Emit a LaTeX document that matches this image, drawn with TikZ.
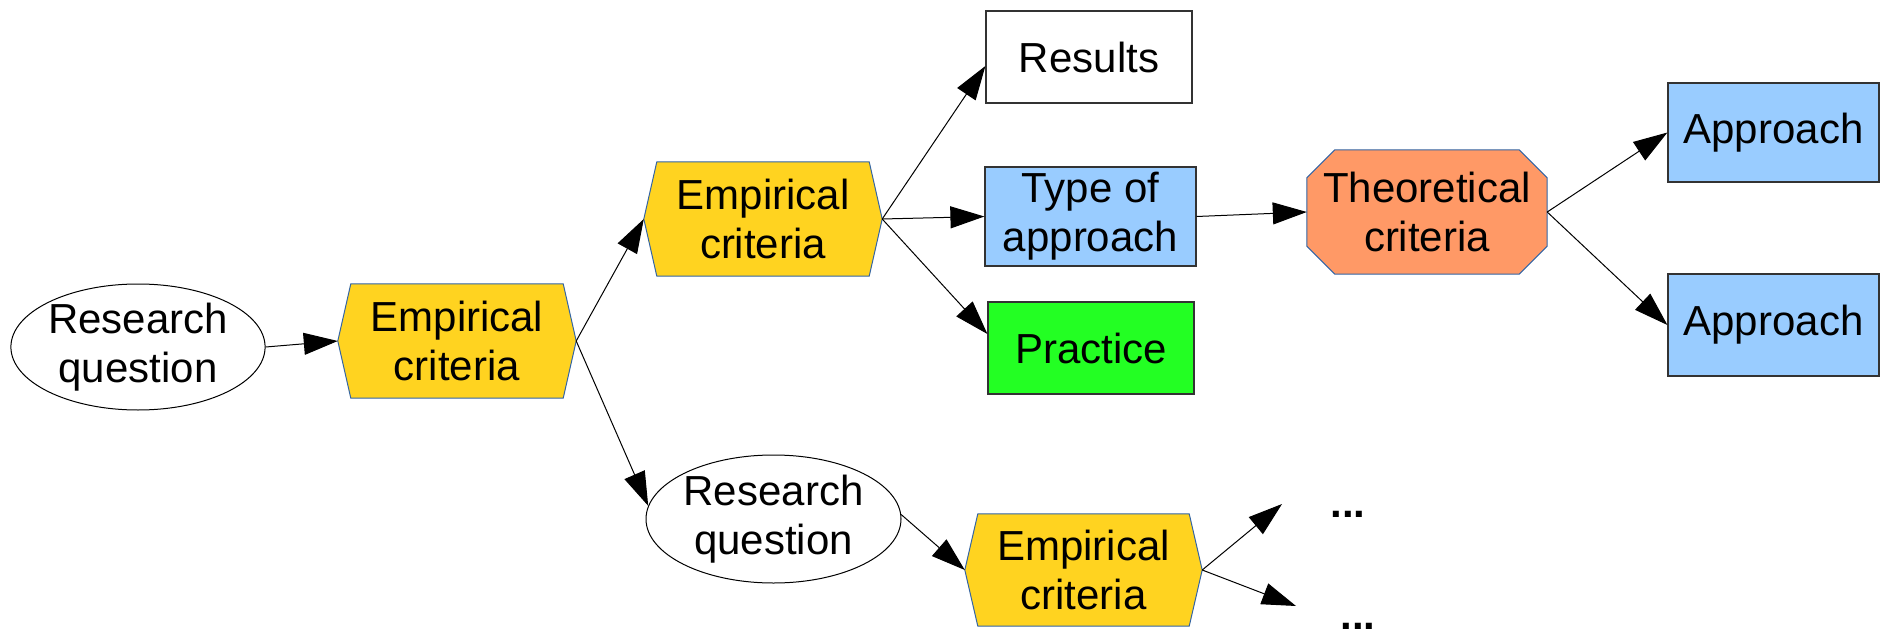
\documentclass[tikz,border=0pt]{standalone}
\usepackage{fontspec}
\setmainfont{Liberation Sans}
\usetikzlibrary{arrows.meta,backgrounds,shapes.geometric}
\definecolor{critfill}{HTML}{FFD320}
\definecolor{critline}{HTML}{3465A4}
\definecolor{apprfill}{HTML}{99CCFF}
\definecolor{pracfill}{HTML}{23FF23}
\definecolor{theofill}{HTML}{FF9966}
\definecolor{boxline}{HTML}{333333}
\begin{document}
\begin{tikzpicture}[x=1pt,y=-1pt,
  lbl/.style={font=\fontsize{42}{49}\selectfont, align=center, inner sep=0pt},
  rbox/.style={lbl, draw=boxline, line width=1.2pt},
  oval/.style={lbl, ellipse, draw=black, line width=1pt},
  critbox/.style={lbl, draw=none, minimum width=238pt, minimum height=114pt},
  conn/.style={-{Triangle[length=34pt,width=22pt]}, line width=1pt, black},
  dots/.style={lbl, font=\fontsize{42}{49}\selectfont\bfseries, anchor=base}]
\useasboundingbox (0,0) rectangle (1881,631);

% questions
\node[oval, minimum width=252pt, minimum height=126pt] (rq1) at (138,347) {Research\\question};
\node[oval, minimum width=255pt, minimum height=128pt] (rq2) at (773.5,519) {Research\\question};

% empirical criteria (hexagons drawn on the background layer)
\node[critbox] (h1) at (457,341) {Empirical\\criteria};
\node[critbox] (h2) at (763,219) {Empirical\\criteria};
\node[critbox, minimum width=237pt, minimum height=112pt] (h3) at (1083.5,570) {Empirical\\criteria};

% theoretical criteria (octagon)
\node[lbl, minimum width=240pt, minimum height=124pt] (theo) at (1427,212) {Theoretical\\criteria};

% rectangles
\node[rbox, minimum width=206pt, minimum height=92pt] (res) at (1089,57) {Results};
\node[rbox, fill=apprfill, minimum width=211pt, minimum height=99pt] (type) at (1090.5,216.5) {Type of\\approach};
\node[rbox, fill=pracfill, minimum width=206pt, minimum height=92pt] (prac) at (1091,348) {Practice};
\node[rbox, fill=apprfill, minimum width=211pt, minimum height=99pt] (app1) at (1773.5,132.5) {Approach};
\node[rbox, fill=apprfill, minimum width=211pt, minimum height=102pt] (app2) at (1773.5,325) {Approach};

% continuation marks
\node[dots] (d1) at (1348,517) {...};
\node[dots] (d2) at (1358,629) {...};
\coordinate (e1) at (1282,504);
\coordinate (e2) at (1296,606);

\begin{scope}[on background layer]
  \foreach \n in {h1,h2,h3}
    \filldraw[fill=critfill, draw=critline, line width=1pt]
      (\n.west) -- ([xshift=13pt]\n.north west) -- ([xshift=-13pt]\n.north east)
      -- (\n.east) -- ([xshift=-13pt]\n.south east) -- ([xshift=13pt]\n.south west) -- cycle;
  \filldraw[fill=theofill, draw=critline, line width=1pt]
    ([yshift=-28pt]theo.north west) -- ([xshift=28pt]theo.north west)
    -- ([xshift=-28pt]theo.north east) -- ([yshift=-28pt]theo.north east)
    -- ([yshift=28pt]theo.south east) -- ([xshift=-28pt]theo.south east)
    -- ([xshift=28pt]theo.south west) -- ([yshift=28pt]theo.south west) -- cycle;
\end{scope}

% connectors
\draw[conn] (rq1.east) -- (h1.west);
\draw[conn] (h1.east) -- (h2.west);
\draw[conn] (h1.east) -- (rq2.174);
\draw[conn] (h2.east) -- ([yshift=-9pt]res.west);
\draw[conn] (h2.east) -- (type.west);
\draw[conn] (h2.east) -- ([yshift=14pt]prac.west);
\draw[conn] (type.east) -- (theo.west);
\draw[conn] (theo.east) -- (app1.west);
\draw[conn] (theo.east) -- (app2.west);
\draw[conn] (rq2.2) -- (h3.west);
\draw[conn] (h3.east) -- (e1);
\draw[conn] (h3.east) -- (e2);
\end{tikzpicture}
\end{document}
